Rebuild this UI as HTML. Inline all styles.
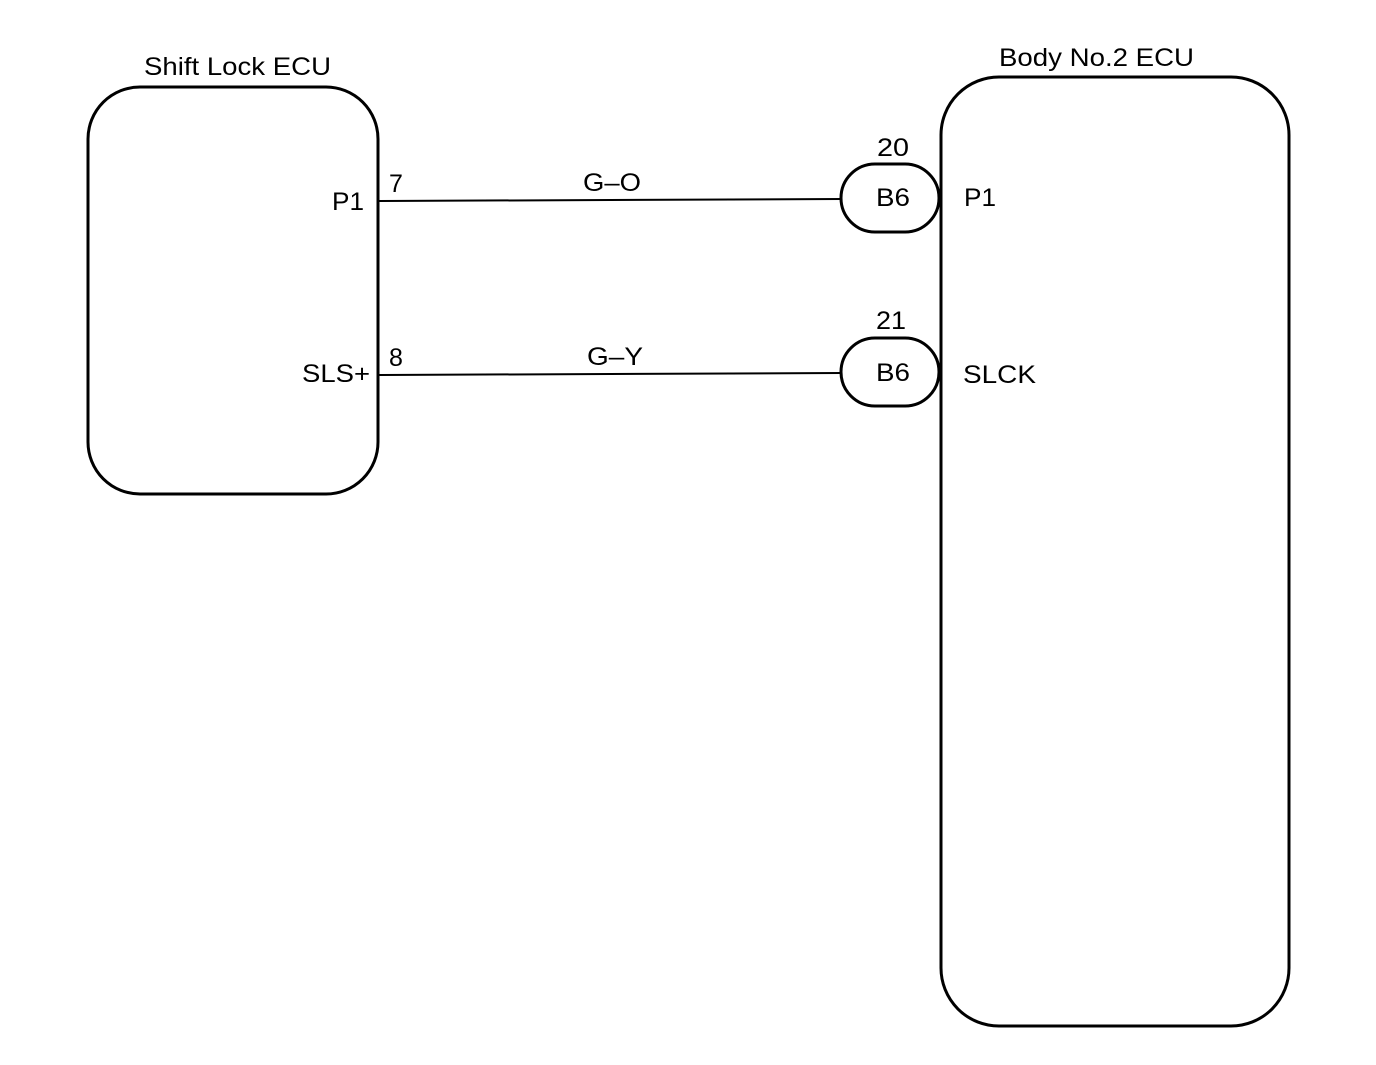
<!DOCTYPE html>
<html><head><style>
html,body{margin:0;padding:0;background:#fff;}
svg text{font-family:"Liberation Sans",sans-serif;fill:#000;}
</style></head><body>
<svg width="1376" height="1060" viewBox="0 0 1376 1060" xmlns="http://www.w3.org/2000/svg">
<rect x="88" y="87" width="290" height="407" rx="52" fill="none" stroke="#000" stroke-width="3"/>
<rect x="941" y="77" width="348" height="949" rx="58" fill="none" stroke="#000" stroke-width="3"/>
<text x="144" y="75" font-size="25" textLength="187" lengthAdjust="spacingAndGlyphs">Shift Lock ECU</text>
<text x="999" y="66" font-size="25" textLength="195" lengthAdjust="spacingAndGlyphs">Body No.2 ECU</text>
<line x1="378" y1="201" x2="842" y2="199" stroke="#000" stroke-width="2"/>
<line x1="378" y1="375" x2="842" y2="373" stroke="#000" stroke-width="2"/>
<rect x="841" y="164" width="98" height="68" rx="34" fill="#fff" stroke="#000" stroke-width="3"/>
<rect x="841" y="338" width="98" height="68" rx="34" fill="#fff" stroke="#000" stroke-width="3"/>
<text x="876" y="206" font-size="25" textLength="34" lengthAdjust="spacingAndGlyphs">B6</text>
<text x="876" y="381" font-size="25" textLength="34" lengthAdjust="spacingAndGlyphs">B6</text>
<text x="877" y="156" font-size="25" textLength="32" lengthAdjust="spacingAndGlyphs">20</text>
<text x="876" y="329" font-size="25" textLength="30" lengthAdjust="spacingAndGlyphs">21</text>
<text x="964" y="206" font-size="25" textLength="32" lengthAdjust="spacingAndGlyphs">P1</text>
<text x="963" y="383" font-size="25" textLength="73" lengthAdjust="spacingAndGlyphs">SLCK</text>
<text x="332" y="210" font-size="25" textLength="32" lengthAdjust="spacingAndGlyphs">P1</text>
<text x="302" y="382" font-size="25" textLength="68" lengthAdjust="spacingAndGlyphs">SLS+</text>
<text x="389" y="192" font-size="25">7</text>
<text x="389" y="366" font-size="25">8</text>
<text x="583" y="191" font-size="25" textLength="58" lengthAdjust="spacingAndGlyphs">G–O</text>
<text x="587" y="365" font-size="25" textLength="56" lengthAdjust="spacingAndGlyphs">G–Y</text>
</svg>
</body></html>
